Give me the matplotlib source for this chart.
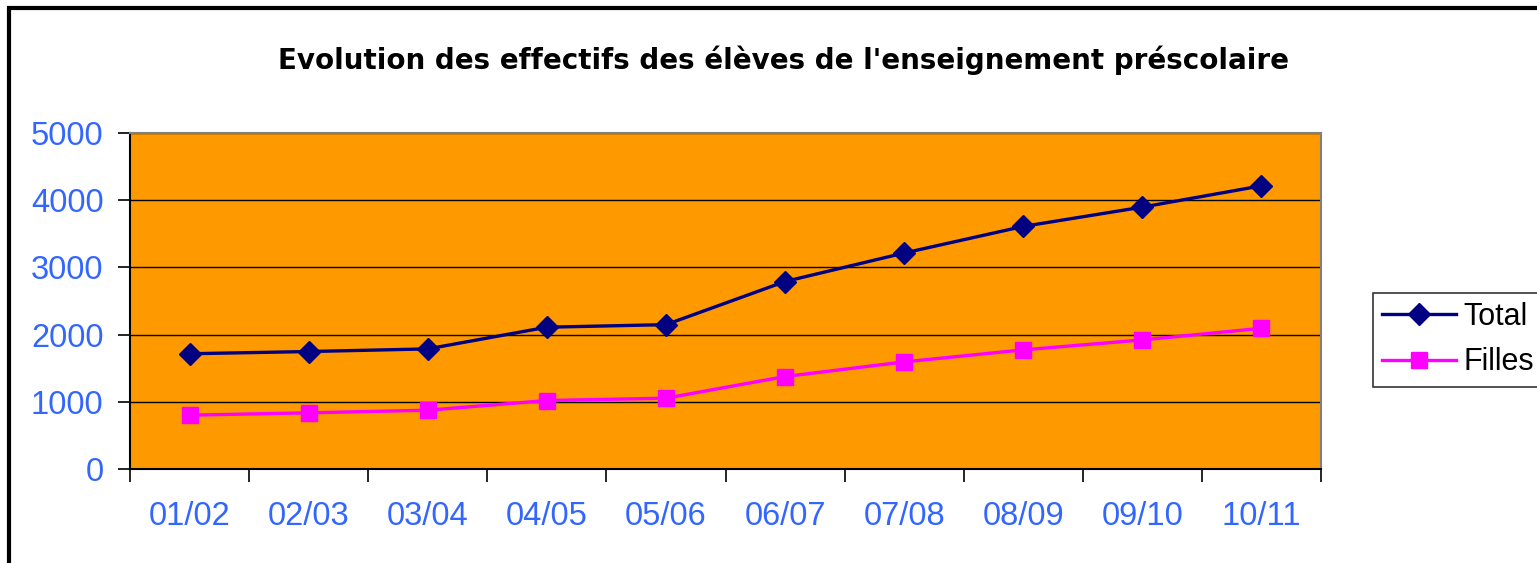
import matplotlib
matplotlib.use("Agg")
import matplotlib.pyplot as plt
import matplotlib.patches as patches
import numpy as np

# data
years = ["01/02", "02/03", "03/04", "04/05", "05/06", "06/07", "07/08", "08/09", "09/10", "10/11"]
total = [1715, 1748, 1787, 2110, 2148, 2790, 3214, 3610, 3897, 4214]
filles = [801, 836, 875, 1019, 1054, 1376, 1594, 1773, 1921, 2094]
yticks = [0, 1000, 2000, 3000, 4000, 5000]

plt.rcParams['font.family'] = ['Liberation Sans', 'DejaVu Sans']
tick_blue = '#3366FF'
W, H = 1537, 563

fig = plt.figure(figsize=(W / 100, H / 100), dpi=100)
ax = fig.add_axes([130 / W, 1 - 469 / H, (1321 - 130) / W, (469 - 133) / H])
ax.set_facecolor('#FF9900')

x = np.arange(len(years))
ax.plot(x, total, color='#000080', linewidth=2.4, marker='D', markersize=11,
        label='Total', zorder=3)
ax.plot(x, filles, color='#FF00FF', linewidth=2.4, marker='s', markersize=11,
        label='Filles', zorder=3)

ax.set_xlim(-0.5, len(years) - 0.5)
ax.set_ylim(0, 5000)
ax.set_yticks(yticks)
ax.set_yticklabels([str(v) for v in yticks])
ax.yaxis.grid(True, color='black', linewidth=1)
ax.set_axisbelow(True)

# category labels centred, tick marks between categories
ax.set_xticks(x)
ax.set_xticklabels(years)
ax.set_xticks(np.arange(len(years) + 1) - 0.5, minor=True)
ax.tick_params(axis='x', which='major', length=0, pad=23, labelsize=23.5,
               labelcolor=tick_blue)
ax.tick_params(axis='x', which='minor', length=9, width=1.2, color='black')
ax.tick_params(axis='y', length=9, width=1.2, color='black', pad=10,
               labelsize=23.5, labelcolor=tick_blue)

for s in ['top', 'right']:
    ax.spines[s].set_color('#808080')
    ax.spines[s].set_linewidth(1.5)
for s in ['left', 'bottom']:
    ax.spines[s].set_color('black')
    ax.spines[s].set_linewidth(1.5)

fig.text(784 / W, 1 - 60 / H, "Evolution des effectifs des élèves de l'enseignement préscolaire",
         ha='center', va='center', fontsize=20, fontweight='bold', color='black',
         family=['DejaVu Sans'])

leg = fig.legend(loc='upper left', bbox_to_anchor=(1373 / W, 1 - 293 / H),
                 fontsize=22, frameon=True, fancybox=False, borderpad=0.3,
                 handlelength=2.4, handletextpad=0.25, labelspacing=0.5,
                 borderaxespad=0)
leg.get_frame().set_edgecolor('black')
leg.get_frame().set_linewidth(1.2)

# outer chart border, running off the right and bottom edges
fig.patches.append(patches.Rectangle((9 / W, -0.1), 1.2, 1 - 8 / H + 0.1,
                                     transform=fig.transFigure, fill=False,
                                     edgecolor='black', linewidth=3))

fig.savefig('out.png', dpi=100)
